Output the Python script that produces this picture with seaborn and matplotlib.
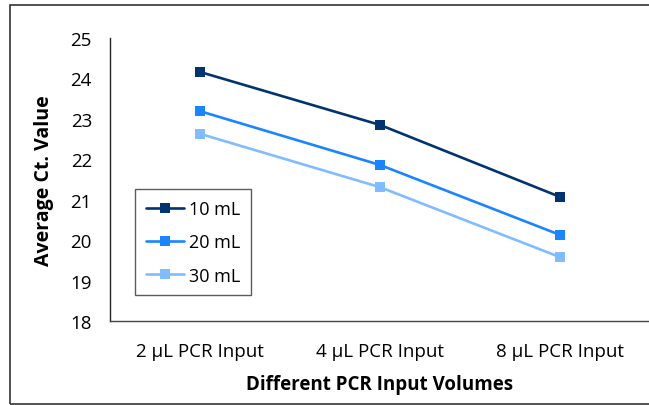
import matplotlib
matplotlib.use("Agg")
import matplotlib.pyplot as plt
import seaborn as sns
import pandas as pd
from matplotlib.patches import Rectangle

categories = ["2 µL PCR Input", "4 µL PCR Input", "8 µL PCR Input"]
series_names = ["10 mL", "20 mL", "30 mL"]
vals_10 = [24.16, 22.85, 21.07]
vals_20 = [23.19, 21.86, 20.13]
vals_30 = [22.63, 21.31, 19.58]
colors = ["#00336F", "#1A85FF", "#80BCFF"]
yticks = [18, 19, 20, 21, 22, 23, 24, 25]

rows = []
for name, vals in zip(series_names, [vals_10, vals_20, vals_30]):
    for i, v in enumerate(vals):
        rows.append({"x": i, "value": v, "series": name})
df = pd.DataFrame(rows)

sns.set_style("white")
plt.rcParams["font.family"] = ["Open Sans", "DejaVu Sans"]
plt.rcParams["text.color"] = "black"
plt.rcParams["axes.labelcolor"] = "black"
plt.rcParams["xtick.color"] = "black"
plt.rcParams["ytick.color"] = "black"

fig = plt.figure(figsize=(6.49, 4.06), dpi=100)
ax = fig.add_axes([110/649, 1-322/406, 540/649, (322-39)/406])

sns.lineplot(data=df, x="x", y="value", hue="series", palette=colors,
             marker="s", markersize=7.5, markeredgewidth=0, linewidth=1.9,
             ax=ax, legend=True)

ax.set_xlim(-0.5, 2.5)
ax.set_ylim(18, 25)
ax.set_yticks(yticks)
ax.set_yticklabels([str(t) for t in yticks], fontsize=13.5)
ax.set_xticks([0, 1, 2])
ax.set_xticklabels(categories, fontsize=13.5)
ax.set_xticks([-0.5, 0.5, 1.5, 2.5], minor=True)
ax.tick_params(axis="x", which="major", length=0, pad=15)
ax.tick_params(axis="x", which="minor", length=6, width=1, color="#333333", direction="out")
ax.tick_params(axis="y", length=6, width=1, color="#333333", direction="out", pad=7)
for s in ["top", "right"]:
    ax.spines[s].set_visible(False)
ax.spines["left"].set_color("#222222")
ax.spines["bottom"].set_color("#444444")
ax.spines["left"].set_linewidth(1)
ax.spines["bottom"].set_linewidth(1)

ax.set_xlabel("Different PCR Input Volumes", fontsize=13.5, fontweight="bold", labelpad=10)
ax.set_ylabel("Average Ct. Value", fontsize=14, fontweight="bold", labelpad=12)

handles, labels = ax.get_legend_handles_labels()
ax.legend(handles, labels, loc="upper left", bbox_to_anchor=(135/649, 1-190/406),
          bbox_transform=fig.transFigure, frameon=True, fancybox=False,
          edgecolor="#333333", fontsize=13, handlelength=2.1, labelspacing=0.85,
          borderpad=0.6, handletextpad=0.3, borderaxespad=0)
leg = ax.get_legend()
leg.get_frame().set_linewidth(1)

fig.patches.append(Rectangle((10/649, 1-405/406), 1.0, (405-6)/406, transform=fig.transFigure,
                             fill=False, edgecolor="#333333", linewidth=1.2))

fig.savefig("out.png", dpi=100)
